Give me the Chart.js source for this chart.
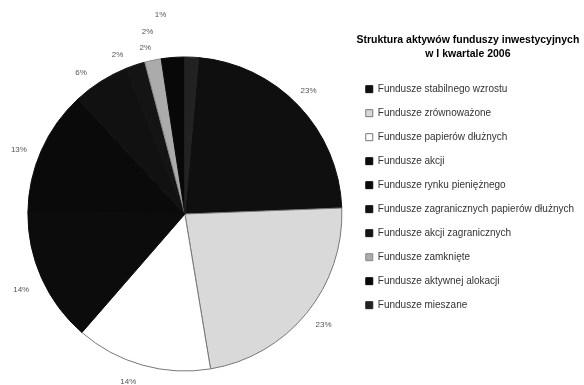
<!DOCTYPE html>
<html lang="pl">
<head>
<meta charset="utf-8">
<script src="https://cdn.jsdelivr.net/npm/chart.js@4.4.1/dist/chart.umd.min.js"></script>
<style>
    html, body {margin:0; padding:0; background:#fff; overflow:hidden}
    .reportGraph {width:584px; height:385px; overflow:hidden}
    canvas {display:block}
</style>
</head>
<body>

<div class="reportGraph"><canvas id="canvas" width="584" height="393"></canvas></div>

<script type="text/javascript">
'use strict';

var categories = [
    "Fundusze stabilnego wzrostu",
    "Fundusze zrównoważone",
    "Fundusze papierów dłużnych",
    "Fundusze akcji",
    "Fundusze rynku pieniężnego",
    "Fundusze zagranicznych papierów dłużnych",
    "Fundusze akcji zagranicznych",
    "Fundusze zamknięte",
    "Fundusze aktywnej alokacji",
    "Fundusze mieszane"
];
// shares in % (printed labels are rounded)
var shares = [23, 23, 14, 13.8, 12.9, 5.8, 2.0, 1.7, 2.4, 1.4];
var chartTitle = ["Struktura aktywów funduszy inwestycyjnych", "w I kwartale 2006"];

var fills = ["#0f0f0f", "#d9d9d9", "#ffffff", "#0c0c0c", "#0a0a0a", "#111111", "#141414", "#ababab", "#080808", "#222222"];
var edges = ["#0f0f0f", "#777777", "#777777", "#0c0c0c", "#0a0a0a", "#111111", "#141414", "#888888", "#080808", "#222222"];
// label nudges, mostly for the crowded small slices near the top
var nudges = [[-3,-3],[3,0],[-9,-1],[-4,4],[-6,7],[-10,6],[-12,7],[-4,5],[-24,-8],[-32,-24]];

var pctLabels = {
    id: 'pctLabels',
    afterDatasetsDraw: function(chart) {
        var ctx = chart.ctx;
        var meta = chart.getDatasetMeta(0);
        ctx.save();
        ctx.font = '8px "Liberation Sans", Arial, sans-serif';
        ctx.fillStyle = '#555';
        ctx.textAlign = 'center';
        ctx.textBaseline = 'middle';
        meta.data.forEach(function(arc, i) {
            var p = arc.getProps(['x', 'y', 'startAngle', 'endAngle', 'outerRadius']);
            var mid = (p.startAngle + p.endAngle) / 2;
            var r = p.outerRadius + 18;
            var x = p.x + Math.cos(mid) * r + nudges[i][0];
            var y = p.y + Math.sin(mid) * r + nudges[i][1];
            ctx.fillText(Math.round(shares[i]) + '%', x, y);
        });
        ctx.restore();
    }
};

function drawGraphs() {
    new Chart(document.getElementById("canvas"), {
        type: "pie",
        data: {
            labels: categories,
            datasets: [{
                data: shares,
                backgroundColor: fills,
                borderColor: edges,
                borderWidth: 1,
                radius: 157
            }]
        },
        options: {
            responsive: false,
            animation: false,
            rotation: 5,
            events: [],
            layout: {padding: {left: 18, top: 35, right: 0, bottom: 0}},
            plugins: {
                tooltip: {enabled: false},
                legend: {
                    position: "right",
                    align: "start",
                    title: {
                        display: true,
                        text: chartTitle,
                        color: "#000",
                        font: {family: '"Liberation Sans", Arial, sans-serif', size: 10.5, weight: "bold", lineHeight: 1.35},
                        padding: {top: 0, bottom: 21}
                    },
                    labels: {
                        boxWidth: 7,
                        boxHeight: 7,
                        padding: 14,
                        color: "#333",
                        font: {family: '"Liberation Sans", Arial, sans-serif', size: 10}
                    }
                }
            }
        },
        plugins: [pctLabels]
    });
}
window.onload = function() {
    drawGraphs();
};
</script>
</body>
</html>
